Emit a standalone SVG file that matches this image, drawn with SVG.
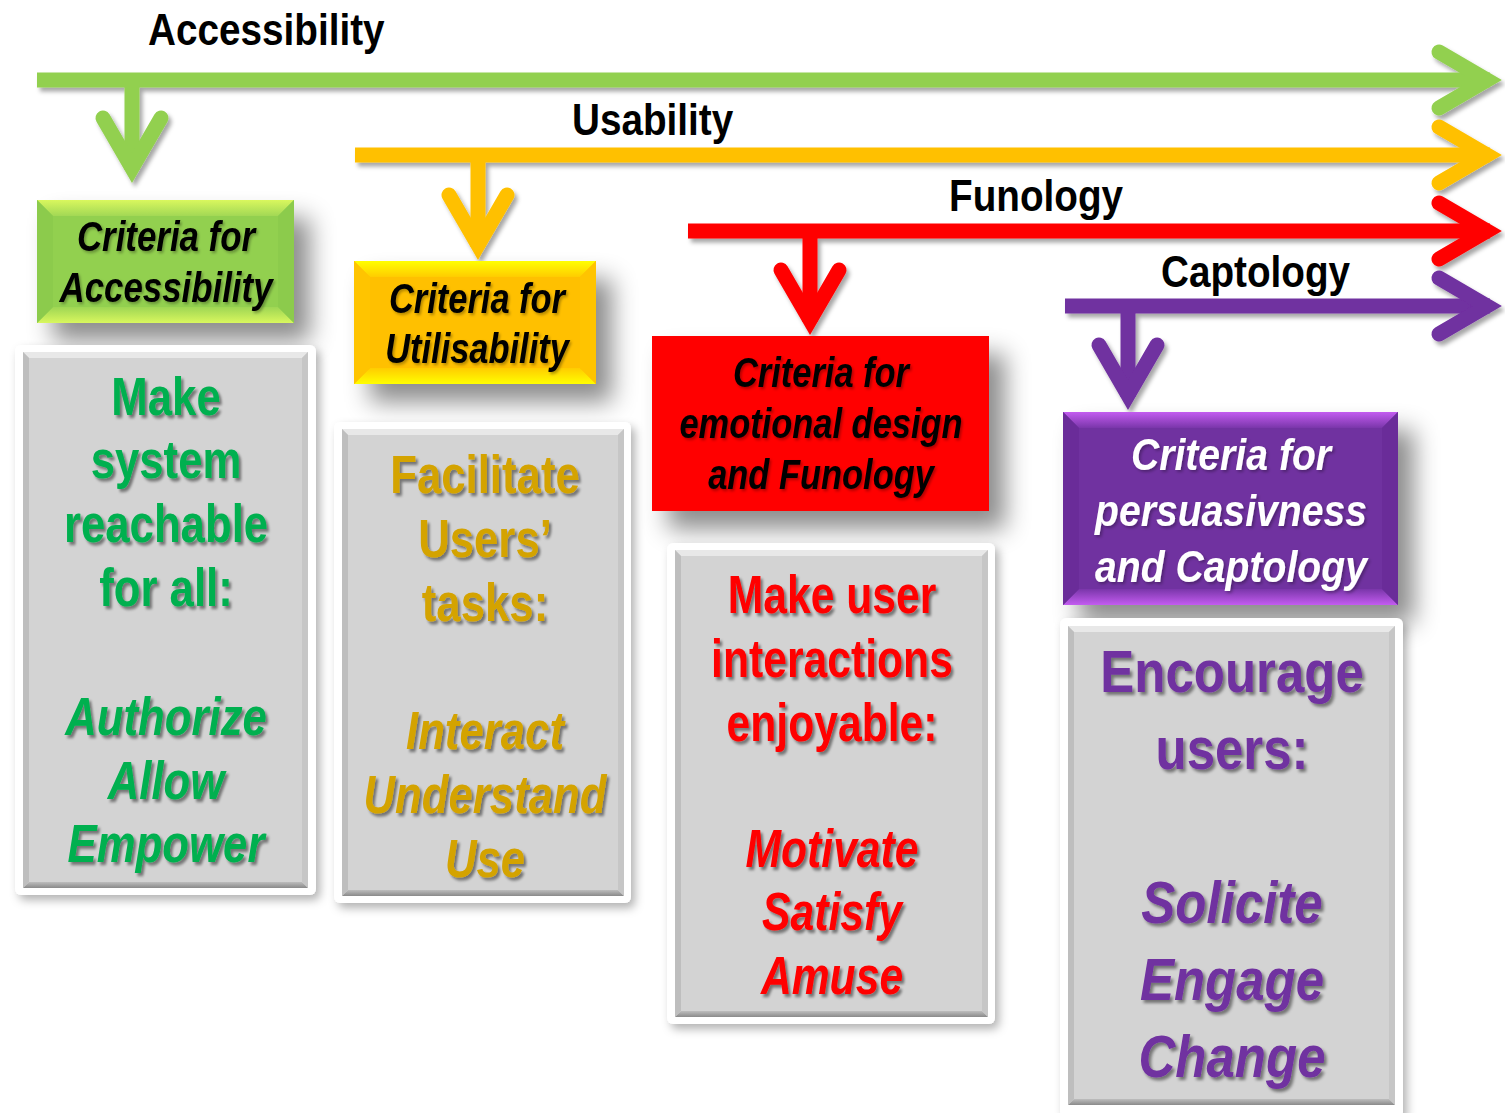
<svg xmlns="http://www.w3.org/2000/svg" width="1505" height="1113" viewBox="0 0 1505 1113">
<defs>
  <filter id="arrowSh" x="-5%" y="-20%" width="110%" height="160%">
    <feDropShadow dx="3" dy="4" stdDeviation="2" flood-color="#000" flood-opacity="0.35"/>
  </filter>
  <filter id="headSh" x="-25%" y="-25%" width="160%" height="170%">
    <feDropShadow dx="16" dy="18" stdDeviation="12" flood-color="#000" flood-opacity="0.45"/>
  </filter>
  <filter id="boxSh" x="-10%" y="-10%" width="125%" height="125%">
    <feDropShadow dx="4" dy="5" stdDeviation="5" flood-color="#000" flood-opacity="0.3"/>
  </filter>
  <filter id="txtSh" x="-10%" y="-30%" width="125%" height="170%">
    <feDropShadow dx="3" dy="3" stdDeviation="1.6" flood-color="#000" flood-opacity="0.45"/>
  </filter>
  <filter id="txtSh2" x="-10%" y="-30%" width="125%" height="170%">
    <feDropShadow dx="2" dy="2" stdDeviation="1.5" flood-color="#000" flood-opacity="0.3"/>
  </filter>
  <linearGradient id="gTop" x1="0" y1="0" x2="0" y2="1"><stop offset="0" stop-color="#D9F75E"/><stop offset="1" stop-color="#A2D855"/></linearGradient>
  <linearGradient id="gBot" x1="0" y1="0" x2="0" y2="1"><stop offset="0" stop-color="#9ED654"/><stop offset="1" stop-color="#D9F75E"/></linearGradient>
  <linearGradient id="yTop" x1="0" y1="0" x2="0" y2="1"><stop offset="0" stop-color="#FFFF00"/><stop offset="1" stop-color="#FFCC00"/></linearGradient>
  <linearGradient id="yBot" x1="0" y1="0" x2="0" y2="1"><stop offset="0" stop-color="#FFCC00"/><stop offset="1" stop-color="#FFFF00"/></linearGradient>
  <linearGradient id="pTop" x1="0" y1="0" x2="0" y2="1"><stop offset="0" stop-color="#C35CF0"/><stop offset="1" stop-color="#7A36AA"/></linearGradient>
  <linearGradient id="pBot" x1="0" y1="0" x2="0" y2="1"><stop offset="0" stop-color="#7A36AA"/><stop offset="1" stop-color="#C35CF0"/></linearGradient>
  <linearGradient id="grBot" x1="0" y1="0" x2="0" y2="1"><stop offset="0" stop-color="#BDBDBD"/><stop offset="1" stop-color="#8A8A8A"/></linearGradient>
</defs>
<style>
  .ln { fill: none; stroke-width: 15; stroke-linecap: butt; }
  .chev { fill: none; stroke-width: 15; stroke-linecap: round; stroke-linejoin: miter; stroke-miterlimit: 6; }
  .green { stroke: #92D050; }
  .orange { stroke: #FFC000; }
  .red { stroke: #FF0000; }
  .purple { stroke: #7030A0; }
  .lbl { font-family: "Liberation Sans", Arial, sans-serif; font-weight: bold; font-size: 45px; fill: #000; }
  .hd { font-family: "Liberation Sans", Arial, sans-serif; font-weight: bold; font-style: italic; font-size: 42px; fill: #000; text-anchor: middle; }
  .hdw { font-family: "Liberation Sans", Arial, sans-serif; font-weight: bold; font-style: italic; font-size: 44px; fill: #FFFFFF; text-anchor: middle; }
  .bt { font-family: "Liberation Sans", Arial, sans-serif; font-weight: bold; font-size: 54px; text-anchor: middle; }
  .bt2 { font-family: "Liberation Sans", Arial, sans-serif; font-weight: bold; font-size: 60px; text-anchor: middle; }
  .it { font-style: italic; }
  .white { fill: #FFFFFF; }
  .gray { fill: #D3D3D3; }
</style>
<rect width="1505" height="1113" fill="#FFFFFF"/>

<g id="connectors">
  <g id="arrow-accessibility" filter="url(#arrowSh)">
    <path class="ln green" d="M37,80 H1490"/>
    <polyline class="chev green" points="1439,52 1487,80 1439,108"/>
    <path class="ln green" d="M132,80 V170"/>
    <polyline class="chev green" points="103,118 132,168 161,118"/>
  </g>
  <g id="arrow-usability" filter="url(#arrowSh)">
    <path class="ln orange" d="M355,155 H1490"/>
    <polyline class="chev orange" points="1439,127 1487,155 1439,183"/>
    <path class="ln orange" d="M478,155 V247"/>
    <polyline class="chev orange" points="449,195 478,245 507,195"/>
  </g>
  <g id="arrow-funology" filter="url(#arrowSh)">
    <path class="ln red" d="M688,231 H1490"/>
    <polyline class="chev red" points="1439,203 1487,231 1439,259"/>
    <path class="ln red" d="M810,231 V322"/>
    <polyline class="chev red" points="781,270 810,320 839,270"/>
  </g>
  <g id="arrow-captology" filter="url(#arrowSh)">
    <path class="ln purple" d="M1065,306 H1490"/>
    <polyline class="chev purple" points="1439,278 1487,306 1439,334"/>
    <path class="ln purple" d="M1128,306 V397"/>
    <polyline class="chev purple" points="1099,345 1128,395 1157,345"/>
  </g>
  <g id="arrow-labels">
    <text class="lbl" transform="translate(148,45) scale(0.86,1)">Accessibility</text>
    <text class="lbl" transform="translate(572,135) scale(0.86,1)">Usability</text>
    <text class="lbl" transform="translate(949,211) scale(0.86,1)">Funology</text>
    <text class="lbl" transform="translate(1161,287) scale(0.86,1)">Captology</text>
  </g>
</g>

<g id="node-criteria-accessibility">
  <g filter="url(#headSh)">
    <rect x="37" y="200" width="257" height="123" fill="#92D050"/>
  </g>
  <polygon points="37,200 294,200 278,216 53,216" fill="url(#gTop)"/>
  <polygon points="37,323 294,323 278,307 53,307" fill="url(#gBot)"/>
  <polygon points="37,200 53,216 53,307 37,323" fill="#8CCB4C"/>
  <polygon points="294,200 278,216 278,307 294,323" fill="#8CCB4C"/>
  <g transform="translate(166,0) scale(0.83,1)" filter="url(#txtSh2)">
    <text class="hd" x="0" y="251">Criteria for</text>
    <text class="hd" x="0" y="302">Accessibility</text>
  </g>
</g>

<g id="node-criteria-utilisability">
  <g filter="url(#headSh)">
    <rect x="354" y="261" width="242" height="123" fill="#FFC000"/>
  </g>
  <polygon points="354,261 596,261 580,277 370,277" fill="url(#yTop)"/>
  <polygon points="354,384 596,384 580,368 370,368" fill="url(#yBot)"/>
  <polygon points="354,261 370,277 370,368 354,384" fill="#FFC400"/>
  <polygon points="596,261 580,277 580,368 596,384" fill="#FFC400"/>
  <g transform="translate(477,0) scale(0.82,1)" filter="url(#txtSh2)">
    <text class="hd" x="0" y="313">Criteria for</text>
    <text class="hd" x="0" y="363">Utilisability</text>
  </g>
</g>

<g id="node-criteria-funology">
  <g filter="url(#headSh)">
    <rect x="652" y="336" width="337" height="175" fill="#FF0000"/>
  </g>
  <g transform="translate(821,0) scale(0.82,1)" filter="url(#txtSh2)">
    <text class="hd" x="0" y="387">Criteria for</text>
    <text class="hd" x="0" y="438">emotional design</text>
    <text class="hd" x="0" y="489">and Funology</text>
  </g>
</g>

<g id="node-criteria-captology">
  <g filter="url(#headSh)">
    <rect x="1063" y="412" width="335" height="193" fill="#7030A0"/>
  </g>
  <polygon points="1063,412 1398,412 1382,428 1079,428" fill="url(#pTop)"/>
  <polygon points="1063,605 1398,605 1382,589 1079,589" fill="url(#pBot)"/>
  <polygon points="1063,412 1079,428 1079,589 1063,605" fill="#6A2C99"/>
  <polygon points="1398,412 1382,428 1382,589 1398,605" fill="#6A2C99"/>
  <g transform="translate(1231,0) scale(0.89,1)" filter="url(#txtSh2)">
    <text class="hdw" x="0" y="470">Criteria for</text>
    <text class="hdw" x="0" y="526">persuasivness</text>
    <text class="hdw" x="0" y="582">and Captology</text>
  </g>
</g>

<g id="node-accessibility-goals">
  <rect class="white" x="15" y="345" width="301" height="550" rx="6" filter="url(#boxSh)"/>
  <rect class="gray" x="23" y="352" width="285" height="536"/>
  <polygon points="23,352 308,352 302,358 29,358" fill="#E8E8E8"/>
  <polygon points="23,888 308,888 302,882 29,882" fill="url(#grBot)"/>
  <polygon points="23,352 29,358 29,882 23,888" fill="#BEBEBE"/>
  <polygon points="308,352 302,358 302,882 308,888" fill="#C6C6C6"/>
  <g transform="translate(166,0) scale(0.81,1)" filter="url(#txtSh)" fill="#00B050">
    <text class="bt" x="0" y="415">Make</text>
    <text class="bt" x="0" y="478">system</text>
    <text class="bt" x="0" y="542">reachable</text>
    <text class="bt" x="0" y="606">for all:</text>
    <text class="bt it" x="0" y="735">Authorize</text>
    <text class="bt it" x="0" y="799">Allow</text>
    <text class="bt it" x="0" y="862">Empower</text>
  </g>
</g>

<g id="node-usability-goals">
  <rect class="white" x="334" y="422" width="297" height="481" rx="6" filter="url(#boxSh)"/>
  <rect class="gray" x="342" y="429" width="282" height="467"/>
  <polygon points="342,429 624,429 618,435 348,435" fill="#E8E8E8"/>
  <polygon points="342,896 624,896 618,890 348,890" fill="url(#grBot)"/>
  <polygon points="342,429 348,435 348,890 342,896" fill="#BEBEBE"/>
  <polygon points="624,429 618,435 618,890 624,896" fill="#C6C6C6"/>
  <g transform="translate(485,0) scale(0.81,1)" filter="url(#txtSh)" fill="#D4A300">
    <text class="bt" x="0" y="493">Facilitate</text>
    <text class="bt" x="0" y="557">Users’</text>
    <text class="bt" x="0" y="621">tasks:</text>
    <text class="bt it" x="0" y="749">Interact</text>
    <text class="bt it" x="0" y="813">Understand</text>
    <text class="bt it" x="0" y="877">Use</text>
  </g>
</g>

<g id="node-funology-goals">
  <rect class="white" x="667" y="543" width="328" height="481" rx="6" filter="url(#boxSh)"/>
  <rect class="gray" x="675" y="550" width="313" height="467"/>
  <polygon points="675,550 988,550 982,556 681,556" fill="#E8E8E8"/>
  <polygon points="675,1017 988,1017 982,1011 681,1011" fill="url(#grBot)"/>
  <polygon points="675,550 681,556 681,1011 675,1017" fill="#BEBEBE"/>
  <polygon points="988,550 982,556 982,1011 988,1017" fill="#C6C6C6"/>
  <g transform="translate(832,0) scale(0.79,1)" filter="url(#txtSh)" fill="#FF0000">
    <text class="bt" x="0" y="613">Make user</text>
    <text class="bt" x="0" y="677">interactions</text>
    <text class="bt" x="0" y="741">enjoyable:</text>
    <text class="bt it" x="0" y="867">Motivate</text>
    <text class="bt it" x="0" y="930">Satisfy</text>
    <text class="bt it" x="0" y="994">Amuse</text>
  </g>
</g>

<g id="node-captology-goals">
  <rect class="white" x="1060" y="618" width="343" height="500" rx="6" filter="url(#boxSh)"/>
  <rect class="gray" x="1068" y="626" width="327" height="479"/>
  <polygon points="1068,626 1395,626 1389,632 1074,632" fill="#E8E8E8"/>
  <polygon points="1068,1105 1395,1105 1389,1099 1074,1099" fill="url(#grBot)"/>
  <polygon points="1068,626 1074,632 1074,1099 1068,1105" fill="#BEBEBE"/>
  <polygon points="1395,626 1389,632 1389,1099 1395,1105" fill="#C6C6C6"/>
  <g transform="translate(1232,0) scale(0.85,1)" filter="url(#txtSh)" fill="#7030A0">
    <text class="bt2" x="0" y="692">Encourage</text>
    <text class="bt2" x="0" y="769">users:</text>
    <text class="bt2 it" x="0" y="923">Solicite</text>
    <text class="bt2 it" x="0" y="1000">Engage</text>
    <text class="bt2 it" x="0" y="1077">Change</text>
  </g>
</g>
</svg>
